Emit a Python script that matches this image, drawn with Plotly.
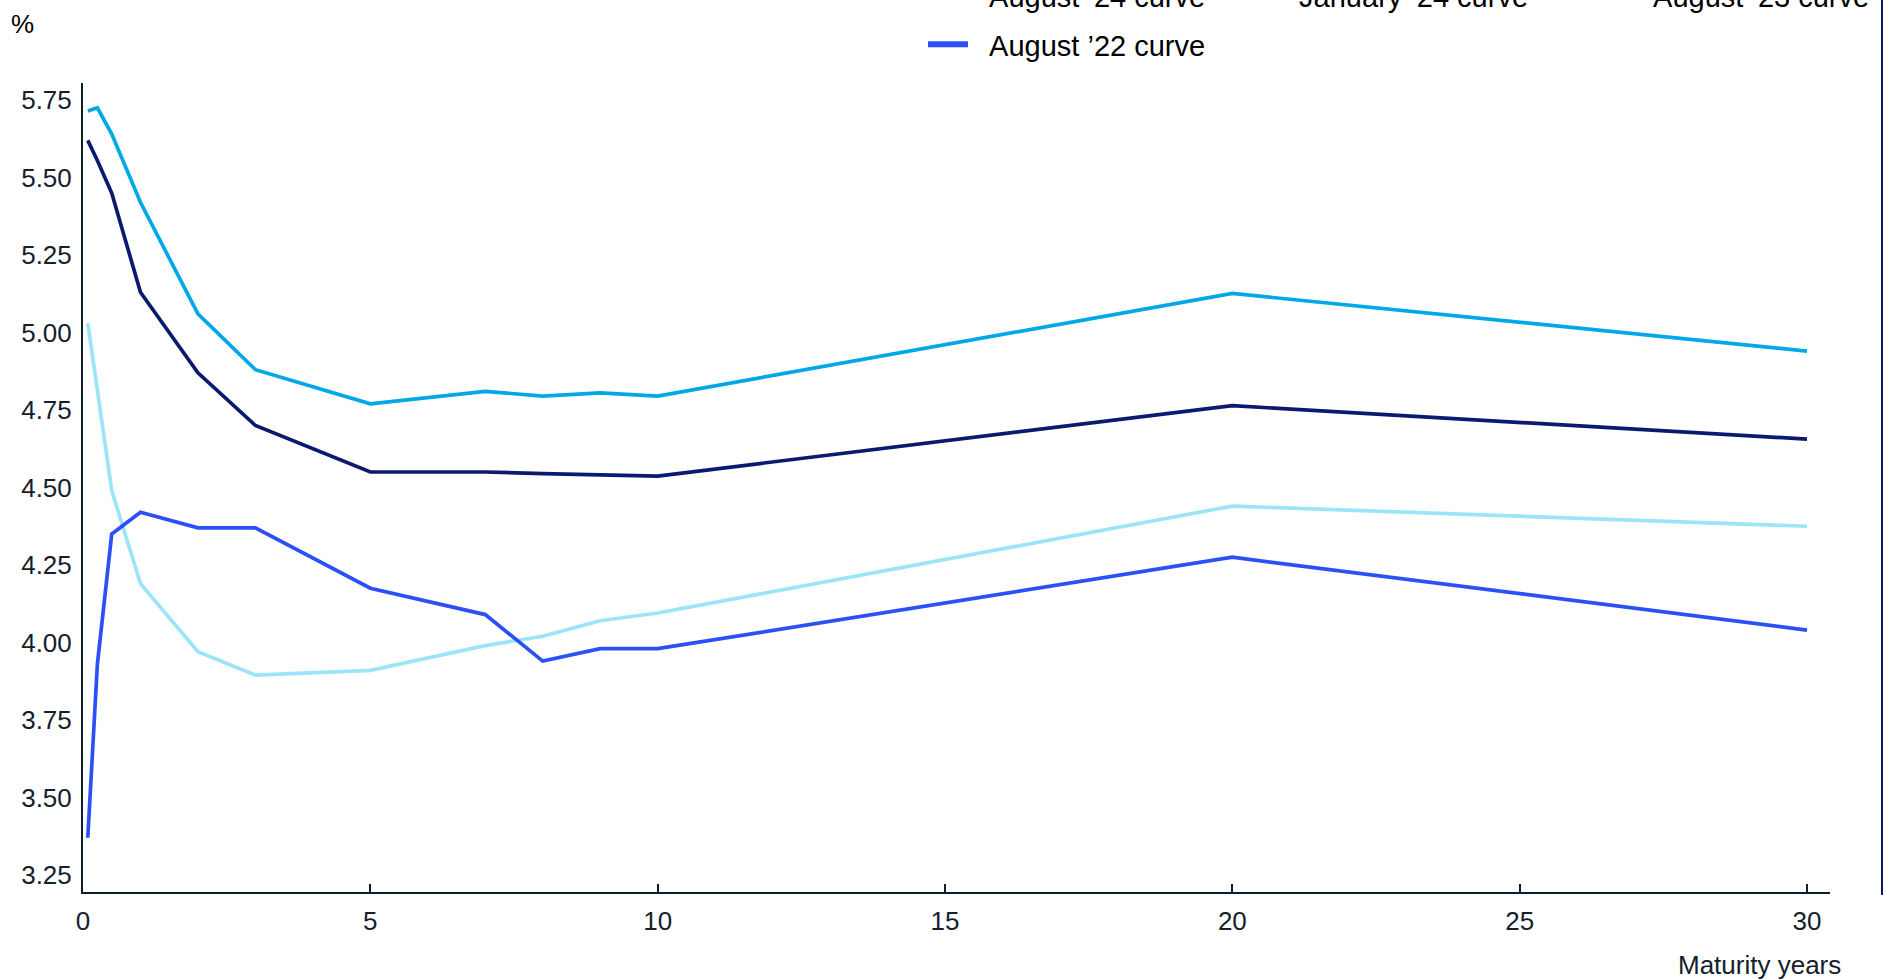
import plotly.graph_objects as go

# ---- data ----
maturities = [1/12, 0.25, 0.5, 1, 2, 3, 5, 7, 8, 9, 10, 20, 30]
aug24 = [5.03, 4.82, 4.49, 4.19, 3.97, 3.895, 3.91, 3.99, 4.02, 4.07, 4.095, 4.44, 4.375]
jan24 = [5.62, 5.555, 5.45, 5.13, 4.87, 4.70, 4.55, 4.55, 4.545, 4.54, 4.537, 4.764, 4.656]
aug23 = [5.715, 5.725, 5.64, 5.42, 5.06, 4.88, 4.77, 4.81, 4.795, 4.805, 4.795, 5.126, 4.94]
aug22 = [3.37, 3.93, 4.35, 4.42, 4.37, 4.37, 4.175, 4.09, 3.94, 3.98, 3.98, 4.275, 4.04]
series_names = ["August \u201924 curve", "January \u201924 curve", "August \u201923 curve", "August \u201922 curve"]
series_colors = ["#9ce4fa", "#0b1a6e", "#00a8e8", "#2b50f6"]
y_tickvals = [3.25, 3.50, 3.75, 4.00, 4.25, 4.50, 4.75, 5.00, 5.25, 5.50, 5.75]
y_ticktext = ["3.25", "3.50", "3.75", "4.00", "4.25", "4.50", "4.75", "5.00", "5.25", "5.50", "5.75"]
x_tickvals = [0, 5, 10, 15, 20, 25, 30]
x_ticktext = ["0", "5", "10", "15", "20", "25", "30"]

# ---- layout geometry ----
W, H = 1885, 979
L, R, T, B = 83, 55, 83, 87
PW, PH = W - L - R, H - T - B

def px(x):
    return (x - L) / PW

def py(y):
    return (H - B - y) / PH

FONT = "Liberation Sans, Arial, sans-serif"
AXIS_COLOR = "#0d1f2d"
TEXT_COLOR = "#14202c"

fig = go.Figure()
all_series = [aug24, jan24, aug23, aug22]
legend_ids = ["legend", "legend2", "legend3", "legend4"]
for vals, name, col in zip(all_series, series_names, series_colors):
    fig.add_trace(go.Scatter(
        x=maturities, y=vals, mode="lines", name=name,
        line=dict(color=col, width=3.7),
        showlegend=False,
    ))
# legend entries (thicker swatches, as in the reference key)
for name, col, lg in zip(series_names, series_colors, legend_ids):
    fig.add_trace(go.Scatter(
        x=[None], y=[None], mode="lines", name="\u00a0\u00a0" + name,
        line=dict(color=col, width=6),
        legend=lg, showlegend=True, hoverinfo="skip",
    ))

legend_font = dict(family=FONT, size=29, color="#000000")
def legend_at(left_px, top_px):
    return dict(
        x=px(left_px), y=py(top_px), xanchor="left", yanchor="top",
        xref="paper", yref="paper",
        orientation="v", font=legend_font, bgcolor="rgba(0,0,0,0)",
        borderwidth=0, itemwidth=40,
    )

fig.update_layout(
    width=W, height=H,
    margin=dict(l=L, r=R, t=T, b=B, autoexpand=False),
    paper_bgcolor="white", plot_bgcolor="white",
    showlegend=True,
    legend=legend_at(923, -30),
    legend2=legend_at(1233, -30),
    legend3=legend_at(1587, -30),
    legend4=legend_at(923, 19),
    xaxis=dict(
        range=[0, 30.4], tickvals=x_tickvals, ticktext=x_ticktext,
        showgrid=False, zeroline=False,
        showline=True, linecolor=AXIS_COLOR, linewidth=2,
        ticks="inside", ticklen=8, tickwidth=1.5, tickcolor=AXIS_COLOR,
        tickfont=dict(family=FONT, size=26, color=TEXT_COLOR),
        ticklabelstandoff=5,
    ),
    yaxis=dict(
        range=[3.195, 5.805], tickvals=y_tickvals, ticktext=y_ticktext,
        showgrid=False, zeroline=False,
        showline=True, linecolor=AXIS_COLOR, linewidth=2,
        ticks="",
        tickfont=dict(family=FONT, size=26, color=TEXT_COLOR),
        ticklabelstandoff=4,
    ),
    annotations=[
        dict(text="%", x=px(22), y=py(24), xref="paper", yref="paper",
             xanchor="center", yanchor="middle", showarrow=False,
             font=dict(family=FONT, size=26, color="#000000")),
        dict(text="Maturity years", x=px(1843), y=py(965), xref="paper", yref="paper",
             xanchor="right", yanchor="middle", showarrow=False,
             font=dict(family=FONT, size=26, color=TEXT_COLOR)),
    ],
    shapes=[
        dict(type="line", xref="paper", yref="paper",
             x0=px(1882), x1=px(1882), y0=py(0), y1=py(895),
             line=dict(color="#0b1a6e", width=2)),
    ],
)

fig.write_html("out.html")
